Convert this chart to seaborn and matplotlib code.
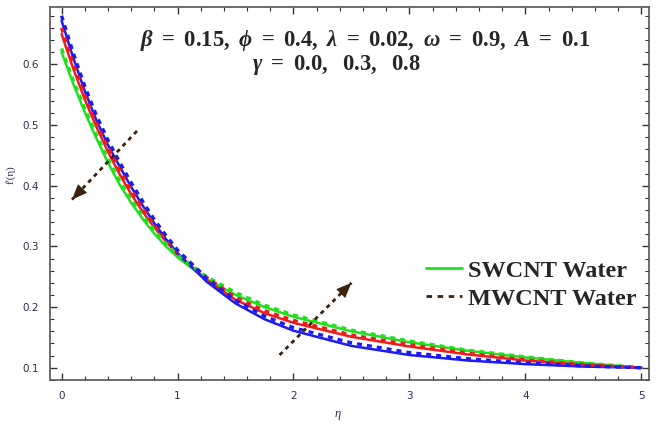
import numpy as np
import pandas as pd
import matplotlib
matplotlib.use("Agg")
import matplotlib.pyplot as plt
from matplotlib.lines import Line2D
from matplotlib.ticker import MultipleLocator
import seaborn as sns

# ---------------- data ----------------
eta = [0.0, 0.1, 0.2, 0.3, 0.4, 0.5, 0.6, 0.7, 0.8, 0.9, 1.0,
       1.25, 1.5, 1.75, 2.0, 2.5, 3.0, 3.5, 4.0, 4.5, 5.0]

# SWCNT Water (solid)
sw_g00 = [0.620, 0.568, 0.521, 0.478, 0.438, 0.402, 0.372, 0.345, 0.321, 0.300, 0.282,
          0.246, 0.220, 0.200, 0.184, 0.160, 0.142, 0.128, 0.117, 0.108, 0.100]
sw_g03 = [0.650, 0.593, 0.542, 0.497, 0.456, 0.419, 0.386, 0.357, 0.331, 0.308, 0.287,
          0.245, 0.212, 0.190, 0.174, 0.151, 0.135, 0.122, 0.112, 0.105, 0.100]
sw_g08 = [0.672, 0.611, 0.556, 0.508, 0.467, 0.432, 0.398, 0.367, 0.338, 0.312, 0.289,
          0.242, 0.206, 0.180, 0.161, 0.136, 0.121, 0.112, 0.106, 0.102, 0.100]

# MWCNT Water (dashed)
mw_g00 = [0.626, 0.574, 0.527, 0.484, 0.444, 0.408, 0.377, 0.350, 0.326, 0.305, 0.286,
          0.250, 0.224, 0.203, 0.187, 0.162, 0.144, 0.129, 0.118, 0.108, 0.100]
mw_g03 = [0.660, 0.602, 0.550, 0.505, 0.464, 0.427, 0.393, 0.363, 0.337, 0.313, 0.292,
          0.249, 0.216, 0.194, 0.178, 0.154, 0.138, 0.124, 0.113, 0.105, 0.100]
mw_g08 = [0.680, 0.619, 0.564, 0.516, 0.475, 0.439, 0.405, 0.374, 0.344, 0.318, 0.294,
          0.247, 0.211, 0.185, 0.166, 0.141, 0.125, 0.115, 0.108, 0.103, 0.100]

xticks = [0, 1, 2, 3, 4, 5]
yticks = [0.1, 0.2, 0.3, 0.4, 0.5, 0.6]
legend_labels = ["SWCNT Water", "MWCNT Water"]
title_line1 = (r"$\beta\ =\ \mathbf{0.15},\ \phi\ =\ \mathbf{0.4},\ \lambda\ =\ \mathbf{0.02},"
               r"\ \omega\ =\ \mathbf{0.9},\ A\ =\ \mathbf{0.1}$")
title_line2 = r"$\gamma\ =\ \mathbf{0.0},\ \ \mathbf{0.3},\ \ \mathbf{0.8}$"

# arrow annotations (tail -> tip)
arrow1 = [(0.65, 0.49), (0.09, 0.377)]
arrow2 = [(1.88, 0.121), (2.50, 0.240)]

# ---------------- styling ----------------
sns.set_style("white")
plt.rcParams["font.family"] = ["DejaVu Sans"]
plt.rcParams["mathtext.fontset"] = "custom"
plt.rcParams["mathtext.rm"] = "Liberation Serif:bold"
plt.rcParams["mathtext.bf"] = "Liberation Serif:bold"
plt.rcParams["mathtext.it"] = "Liberation Serif:bold:italic"

green = "#1fe01f"
red = "#ee1c1c"
blue = "#1c1cf0"
brown = "#3d220c"

fig = plt.figure(figsize=(6.61, 4.24), dpi=100)
ax = fig.add_axes([0.0756, 0.104, 0.907, 0.879])

series = [(sw_g00, green), (sw_g03, red), (sw_g08, blue)]
dseries = [(mw_g00, green), (mw_g03, red), (mw_g08, blue)]
for vals, col in series:
    df = pd.DataFrame({"eta": eta, "f": vals})
    sns.lineplot(data=df, x="eta", y="f", ax=ax, color=col, lw=1.8)
for vals, col in dseries:
    df = pd.DataFrame({"eta": eta, "f": vals})
    sns.lineplot(data=df, x="eta", y="f", ax=ax, color=col, lw=2.4,
                 linestyle=(0, (1.5, 1.5)))

# arrows
for (t0, t1) in [arrow1, arrow2]:
    ax.plot([t0[0], t1[0]], [t0[1], t1[1]], color=brown, lw=2.0,
            linestyle=(0, (1.5, 1.5)))
    ax.annotate("", xy=t1, xytext=(t0[0] + 0.8 * (t1[0] - t0[0]), t0[1] + 0.8 * (t1[1] - t0[1])),
                arrowprops=dict(arrowstyle="-|>,head_length=1.1,head_width=0.45",
                                color=brown, lw=0, shrinkA=0, shrinkB=0))

ax.set_xlim(-0.10, 5.07)
ax.set_ylim(0.080, 0.694)
ax.set_xticks(xticks)
ax.set_yticks(yticks)
ax.set_xticklabels([str(v) for v in xticks])
ax.set_yticklabels([f"{v:.1f}" for v in yticks])
ax.xaxis.set_minor_locator(MultipleLocator(0.2))
ax.yaxis.set_minor_locator(MultipleLocator(0.02))
ax.tick_params(which="both", direction="in", top=True, right=True, bottom=True, left=True,
               color="#333333", labelsize=7.5, labelcolor="#2a3050")
ax.tick_params(which="major", length=5, width=1.0, pad=8)
ax.tick_params(which="minor", length=3, width=0.8)
for s in ax.spines.values():
    s.set_color("#555555")
    s.set_linewidth(1.2)

ax.set_xlabel("η", fontsize=9, color="#2a3050", fontfamily="Liberation Serif", fontstyle="italic")
ax.set_ylabel("f'(η)", fontsize=8, color="#2a3050", fontfamily="Liberation Serif")
ax.xaxis.set_label_coords(0.48, -0.075)
ax.yaxis.set_label_coords(-0.058, 0.55)

ax.text(0.525, 0.912, title_line1, transform=ax.transAxes, ha="center", va="center", fontsize=16.3)
ax.text(0.478, 0.845, title_line2, transform=ax.transAxes, ha="center", va="center", fontsize=16.3)

handles = [Line2D([0], [0], color=green, lw=2.0),
           Line2D([0], [0], color=brown, lw=2.0, linestyle=(0, (2, 2)))]
leg = ax.legend(handles, legend_labels, loc="center left", bbox_to_anchor=(0.628, 0.255),
                frameon=False, handlelength=1.45, handletextpad=0.25, labelspacing=0.25,
                borderpad=0, borderaxespad=0,
                prop={"family": "Liberation Serif", "weight": "bold", "size": 17.5})

fig.savefig("out.png", dpi=100)
